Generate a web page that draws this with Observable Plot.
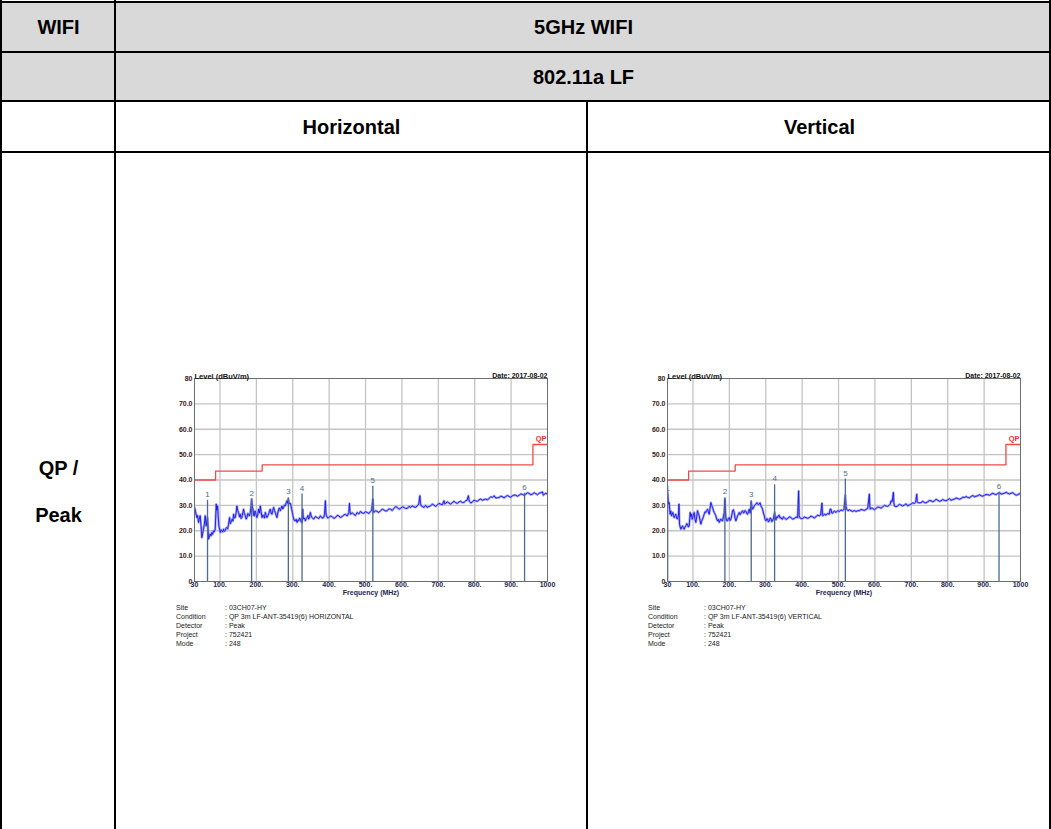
<!DOCTYPE html>
<html><head><meta charset="utf-8">
<script src="https://cdn.jsdelivr.net/npm/d3@7"></script>
<script src="https://cdn.jsdelivr.net/npm/@observablehq/plot@0.6"></script>
<style>
body{margin:0;background:#fff;font-family:"Liberation Sans",Arial,sans-serif;}
#page{position:relative;width:1051px;height:829px;overflow:hidden;}
.cell{position:absolute;display:flex;align-items:center;justify-content:center;font-weight:bold;font-size:20px;color:#000;text-align:center;}
.ln{position:absolute;background:#000;}
.chart{position:absolute;}
.info{position:absolute;font-size:7px;color:#222;line-height:9px;white-space:pre;}
</style></head><body><div id="page"></div>
<script>
// ---- data ----
const xTicks = [30,100,200,300,400,500,600,700,800,900,1000];
const xTickLabels = ["30","100.","200.","300.","400.","500.","600.","700.","800.","900.","1000"];
const yTicks = [0,10,20,30,40,50,60,70,80];
const yTickLabels = ["0","10.0","20.0","30.0","40.0","50.0","60.0","70.0","80"];
const xGrid = [100,200,300,400,500,600,700,800,900];
const yGrid = [10,20,30,40,50,60,70];
const limitFreq = [30,88,216,960,1000];
const limitLevel = [40,43.5,46,54,54];
const markerLabels = ["1","2","3","4","5","6"];
const hMarkerFreq = [65.8,186.9,287.9,325.5,520,937];
const hMarkerLevel = [32.0,32.5,33.0,34.5,37.5,34.8];
const vMarkerFreq = [30.5,187.7,260.1,324.3,518.7,941];
const vMarkerLevel = [34.5,33.0,31.8,38.1,40.4,35.1];
const hTrace = [[30,29.2],[33,27.5],[36.4,25.2],[38.5,26.0],[41,23.3],[43,24.5],[45.6,25.9],[48,22.0],[50.2,17.3],[52.5,19.0],[54.8,20.6],[57,22.5],[59.4,25.9],[62.1,21.9],[64,24.0],[65.8,25.2],[68.5,16.7],[70.5,17.5],[73.1,18.7],[75.5,18.0],[77.7,19.3],[80,18.6],[82.3,20.0],[84.5,19.6],[86.9,20.6],[89.7,30.5],[91.5,28.0],[93.3,29.8],[95,26.0],[97,21.9],[100.7,19.3],[103,20.4],[105.3,20.0],[107.5,19.5],[109.8,20.6],[112,19.8],[114.4,20.0],[116.7,21.0],[119,21.3],[121.3,20.8],[123.6,22.6],[126.4,25.2],[128.2,22.8],[130,23.3],[131.8,24.1],[133.7,24.6],[135.5,23.8],[137.4,26.5],[139.7,25.0],[142,25.2],[144.3,27.0],[146.5,29.8],[148.8,28.0],[151.1,27.2],[153.4,25.5],[155.7,26.5],[158,24.8],[160.3,25.2],[162.6,27.0],[164.9,28.5],[167.2,26.8],[169.5,25.9],[171.8,24.6],[174.1,25.2],[176.4,26.8],[178.7,26.5],[181,25.8],[183.3,27.2],[185,29.0],[186.9,32.5],[188.7,29.5],[190.6,28.5],[192.4,26.0],[194.3,25.9],[196.1,27.8],[197.9,27.2],[199.8,26.0],[201.6,25.2],[203.9,26.5],[206.2,28.5],[208.5,27.0],[210.8,29.8],[213.1,27.5],[215.4,25.2],[217.7,26.2],[220,25.9],[222.3,25.0],[224.6,27.2],[226.9,26.0],[229.1,25.2],[231.4,25.9],[233.7,26.5],[236,27.8],[238.3,28.5],[240.6,27.0],[242.9,26.5],[245.2,28.0],[247.5,29.2],[249.8,28.0],[252.1,27.2],[254.4,26.0],[256.7,25.2],[259,27.0],[261.3,28.5],[263.5,29.0],[265.8,27.9],[268.1,28.8],[270.4,29.8],[272.7,28.6],[275,29.2],[277.3,30.2],[279.6,29.8],[281.9,31.0],[284.2,31.8],[286,30.8],[287.9,32.5],[289.7,31.2],[291.5,30.5],[293.4,30.8],[295.2,29.8],[297,28.5],[298.9,27.2],[300.7,25.8],[302.6,24.6],[304.9,24.0],[307.1,23.9],[309.4,24.5],[311.7,23.3],[314,24.2],[316.3,23.9],[318.6,25.0],[320.9,24.6],[323.2,23.5],[325.5,23.3],[327.3,28.5],[328.7,25.5],[330.1,24.6],[332.4,25.0],[334.7,23.9],[337,24.8],[339.3,25.2],[341.6,26.0],[343.9,24.6],[346.2,25.5],[348.4,27.2],[350.7,25.8],[353,25.2],[355.3,24.8],[357.6,24.6],[362,25.6],[366.8,25.2],[371.4,24.8],[376,25.9],[380.6,25.0],[385.1,25.2],[387.4,26.5],[389.7,31.8],[391.1,27.0],[392.5,25.9],[395.7,25.0],[398.9,25.2],[403.5,25.8],[408.1,25.6],[412.7,24.9],[417.3,25.2],[421.9,26.0],[426.4,25.9],[431,25.2],[435.6,25.6],[440.2,26.2],[444.8,26.5],[449.4,25.8],[454,27.2],[455.8,30.8],[457.2,27.5],[458.6,26.5],[463.2,27.1],[467.7,26.5],[472.3,26.0],[476.9,27.2],[481.5,26.6],[486.1,27.6],[490.7,27.0],[495.3,26.9],[499.9,27.5],[504.5,27.2],[509,26.8],[513.6,27.6],[516.8,28.0],[520,32.5],[521.4,28.3],[522.8,27.2],[527.4,27.9],[532,27.6],[536.6,27.2],[541.2,27.9],[545.8,28.5],[550.3,28.2],[554.9,27.8],[559.5,27.9],[564.1,28.6],[568.7,28.5],[573.3,28.0],[577.9,28.8],[582.5,29.5],[587,29.2],[591.6,28.5],[596.2,28.8],[600.8,29.4],[605.4,29.2],[610,28.8],[614.6,28.8],[619.2,29.6],[623.7,29.2],[628.3,29.8],[632.9,29.4],[637.5,29.2],[642.1,29.8],[646,30.5],[649.4,33.8],[651,30.8],[653,29.8],[656.8,29.5],[660.5,29.2],[665,30.0],[669.6,29.2],[674.2,29.6],[678.8,29.8],[683.4,30.5],[688,30.1],[692.6,29.6],[697.2,30.1],[701.8,30.8],[706.3,30.5],[710.9,30.2],[715.5,31.8],[717.8,30.6],[720.1,30.8],[724.7,31.4],[729.3,30.9],[733.9,30.5],[738.5,31.1],[743,31.6],[747.6,31.1],[752.2,30.8],[756.8,31.4],[761.4,31.6],[766,31.1],[770.6,31.2],[775.2,31.8],[778.8,32.0],[782.5,33.8],[784.3,32.2],[786.2,31.4],[789.8,30.9],[793.5,31.4],[798.1,32.0],[802.7,31.8],[807.3,31.6],[811.9,32.2],[816.4,32.5],[821,32.0],[825.6,32.3],[830.2,32.5],[834.8,32.2],[839.4,32.7],[844,33.4],[848.6,33.1],[853.2,33.8],[857.8,32.9],[862.3,33.0],[866.9,33.1],[871.5,33.6],[876.1,33.4],[880.7,33.0],[885.3,33.5],[889.9,33.9],[894.5,33.5],[899.1,33.2],[903.7,33.8],[908.2,34.1],[912.8,34.0],[917.4,33.6],[922,34.0],[926.6,34.5],[931.2,34.3],[935.8,34.0],[940.4,34.4],[945,35.0],[949.6,34.7],[954.1,34.2],[958.7,34.4],[963.3,35.0],[967.9,34.6],[972.5,34.2],[977.1,34.8],[981.7,35.0],[986.3,35.3],[988.5,34.0],[990.8,34.4],[995.4,34.8],[1000,34.4]];
const vTrace = [[30,35.7],[31.8,31.8],[33.2,30.5],[34.6,31.1],[36,28.5],[37.3,26.5],[39,27.8],[41,25.9],[42.8,26.4],[44.7,27.2],[46.5,26.0],[48.3,25.2],[50.6,25.9],[52.9,26.5],[55.2,25.0],[57.5,24.6],[59,25.5],[60.3,25.9],[61.5,30.5],[63,22.6],[64.8,21.5],[66.7,20.6],[69,21.6],[71.3,21.9],[73.5,21.0],[75.8,20.6],[78,21.5],[80.4,21.9],[82.7,22.8],[85,22.6],[87.3,21.5],[89.6,21.9],[92.3,27.2],[94.2,25.5],[96,26.5],[97.8,24.5],[99.7,25.2],[101.5,26.5],[103.3,27.2],[105.6,24.5],[107.9,23.3],[110.2,25.5],[112.5,27.9],[114.8,26.8],[117.1,25.9],[119.4,24.0],[121.7,22.6],[124,23.8],[126.3,24.6],[128.5,25.5],[130.8,26.5],[133.1,27.5],[135.4,27.2],[137.7,28.0],[140,28.5],[142.3,27.5],[144.6,26.5],[146.9,28.8],[149.2,31.1],[151.5,30.0],[153.8,29.2],[156.1,28.0],[158.4,27.2],[160.7,26.5],[162.9,25.9],[165.2,24.5],[167.5,23.9],[169.8,24.5],[172.1,23.3],[174.4,24.0],[176.7,24.6],[179,24.0],[181.3,23.9],[183.6,25.5],[185.9,27.2],[187.7,32.5],[189,28.0],[190.4,25.2],[192.7,24.0],[195,23.9],[197.3,24.8],[199.6,25.2],[201.9,24.0],[204.2,24.6],[206.5,26.0],[208.8,27.9],[211.1,28.3],[213.4,27.2],[215.6,25.0],[217.9,23.9],[220.2,24.8],[222.5,25.9],[224.8,26.5],[227.1,27.2],[229.4,26.3],[231.7,26.9],[234,27.5],[236.3,27.9],[238.6,27.0],[240.9,27.2],[243.2,28.0],[245.4,27.6],[247.7,26.8],[250,26.5],[252.3,27.5],[254.6,28.5],[257.4,27.0],[260.1,31.4],[262,29.5],[263.8,28.5],[266.1,29.0],[268.4,29.8],[270.7,30.2],[272.9,30.5],[275.2,31.0],[277.5,30.8],[279.8,30.2],[282.1,30.5],[284.4,31.0],[286.7,29.8],[289,29.2],[291.3,28.5],[293.6,27.0],[295.9,25.9],[298.2,24.5],[300.5,23.9],[302.8,24.8],[305,24.6],[307.3,23.5],[309.6,23.9],[311.9,25.0],[314.2,24.8],[316.5,23.6],[318.8,23.9],[321.5,25.0],[324.3,27.2],[326.2,25.0],[328,24.3],[330.3,25.5],[332.5,25.2],[334.8,26.0],[337.1,26.1],[339.4,25.0],[341.7,25.2],[344,24.6],[346.3,24.6],[348.6,25.5],[350.9,25.2],[355.5,24.5],[360,24.8],[364.6,25.5],[369.2,25.2],[373.8,24.6],[378.4,24.8],[383,25.4],[387.6,25.2],[390.3,35.7],[391.7,26.0],[393.1,25.2],[397.2,24.8],[401.3,24.8],[405.9,25.4],[410.5,25.2],[415,24.9],[419.6,25.2],[424.2,25.8],[428.8,25.5],[433.4,25.0],[438,25.6],[442.6,26.1],[447.1,25.9],[450.8,26.2],[454.5,30.9],[455.9,26.5],[457.2,25.9],[461.4,26.6],[465.5,26.1],[470,26.8],[474.6,26.5],[476.9,28.5],[479.2,28.5],[481.5,27.0],[483.8,26.9],[488.4,27.8],[493,27.2],[497.6,27.9],[502.2,27.6],[506.7,28.2],[511.3,27.9],[515,28.5],[518.7,34.0],[520.5,29.5],[522.3,28.5],[526,27.9],[529.7,28.3],[534.2,27.9],[538.8,27.6],[543.4,28.0],[548,27.6],[552.6,27.9],[557.2,27.9],[561.8,28.4],[566.3,28.2],[570.9,28.0],[575.5,28.4],[580.1,28.8],[584.7,34.4],[586,29.5],[587.4,28.5],[590.6,29.0],[593.9,28.8],[598.5,28.3],[603,28.8],[607.6,29.3],[612.2,29.2],[616.8,28.9],[621.4,29.4],[626,30.0],[630.5,29.8],[635.1,29.6],[639.7,30.1],[642,30.5],[644.3,31.8],[647.5,31.5],[650.7,35.1],[652,31.0],[653.4,29.8],[658,29.5],[662.6,29.8],[667.2,30.4],[671.8,30.1],[676.4,29.8],[680.9,30.1],[685.5,30.6],[690.1,29.8],[694.7,30.2],[699.3,30.5],[703.9,31.0],[708.4,30.8],[711.7,31.2],[714.9,34.4],[716.2,31.5],[717.6,31.1],[722.2,31.0],[726.8,31.1],[731.4,31.6],[736,31.1],[740.6,31.0],[745.1,31.4],[749.7,31.9],[754.3,31.8],[758.9,31.4],[763.5,31.8],[768.1,32.4],[772.6,32.0],[777.2,31.6],[781.8,31.8],[786.4,32.3],[790.9,32.0],[795.5,31.8],[800.1,32.2],[804.7,32.6],[809.3,32.0],[813.9,32.3],[818.5,32.5],[823,32.9],[827.6,32.7],[832.2,32.4],[836.8,32.7],[841.4,33.2],[846,33.1],[850.6,33.5],[855.1,33.1],[859.7,33.0],[864.3,33.5],[868.9,33.9],[873.5,33.4],[878.1,33.6],[882.7,33.8],[887.2,34.2],[891.8,33.8],[896.4,33.6],[901,34.0],[905.6,34.3],[910.2,34.2],[914.7,34.0],[919.3,34.4],[923.9,34.8],[928.5,34.4],[933.1,34.3],[937.7,34.7],[942.3,35.1],[946.9,34.4],[951.4,34.6],[956,34.8],[960.6,35.2],[965.2,34.7],[969.8,34.5],[974.4,34.8],[979,35.0],[983.6,34.4],[988.2,34.0],[992.7,34.2],[996.3,34.6],[1000,34.4]];
const infoLabels = ["Site","Condition","Detector","Project","Mode"];
const hInfo = [": 03CH07-HY", ": QP 3m LF-ANT-35419(6) HORIZONTAL", ": Peak", ": 752421", ": 248"];
const vInfo = [": 03CH07-HY", ": QP 3m LF-ANT-35419(6) VERTICAL", ": Peak", ": 752421", ": 248"];
const chartTitle = "Level (dBuV/m)";
const chartDate = "Date: 2017-08-02";
const xLabel = "Frequency (MHz)";
const limitName = "QP";

// ---- table ----
const page = document.getElementById("page");
function add(cls, css, html) {
  const d = document.createElement("div");
  d.className = cls; d.style.cssText = css; if (html != null) d.innerHTML = html;
  page.appendChild(d); return d;
}
add("", "position:absolute;left:0;top:2px;width:1051px;height:99px;background:#d9d9d9;");
add("cell", "left:2px;top:3px;width:113px;height:49px;", "WIFI");
add("cell", "left:116px;top:3px;width:935px;height:49px;", "5GHz WIFI");
add("cell", "left:116px;top:53px;width:935px;height:48px;", "802.11a LF");
add("cell", "left:116px;top:102px;width:471px;height:50px;", "Horizontal");
add("cell", "left:588px;top:102px;width:463px;height:50px;", "Vertical");
add("cell", "left:2px;top:152px;width:113px;height:680px;line-height:47px;", "QP /<br>Peak");
// lines
add("ln", "left:0;top:1px;width:1051px;height:2px;");
add("ln", "left:0;top:51px;width:1051px;height:2px;");
add("ln", "left:0;top:100px;width:1051px;height:2px;");
add("ln", "left:0;top:151px;width:1051px;height:2px;");
add("ln", "left:0;top:0;width:2px;height:829px;");
add("ln", "left:114px;top:0;width:2px;height:829px;");
add("ln", "left:586px;top:101px;width:2px;height:728px;");
add("ln", "left:1049px;top:0;width:2px;height:829px;");

// ---- charts ----
const FONT = "'Liberation Sans', Arial, sans-serif";
function chart(trace, mFreq, mLevel) {
  const data = trace.map(([f, v]) => ({f, v}));
  const limit = limitFreq.map((f, i) => ({f, v: limitLevel[i]}));
  const markers = mFreq.map((f, i) => ({f, v: mLevel[i], label: markerLabels[i]}));
  return Plot.plot({
    width: 420, height: 240,
    marginLeft: 54, marginRight: 13, marginTop: 16, marginBottom: 21,
    x: {type: "linear", domain: [30, 1000]},
    y: {type: "linear", domain: [0, 80]},
    style: {fontFamily: FONT, background: "transparent", overflow: "visible"},
    marks: [
      Plot.ruleX(xGrid, {stroke: "#c4c4c4", strokeWidth: 1.3}),
      Plot.ruleY(yGrid, {stroke: "#c4c4c4", strokeWidth: 1.3}),
      Plot.line(limit, {x: "f", y: "v", curve: "step-after", stroke: "#f04a4a", strokeWidth: 1.3}),
      Plot.line(data, {x: "f", y: "v", stroke: "#a6a6fa", strokeWidth: 2.4, clip: true}),
      Plot.line(data, {x: "f", y: "v", stroke: "#1414e8", strokeWidth: 0.9, clip: true}),
      Plot.ruleX(markers, {x: "f", y1: 0, y2: "v", stroke: "#4d6b8c", strokeWidth: 1.3, clip: true}),
      Plot.text(markers, {x: "f", y: "v", text: "label", dy: -6, fill: "#4d6b8c", fontSize: 8, clip: true}),
      Plot.frame({stroke: "#6e6e6e", strokeWidth: 1}),
      Plot.axisY({ticks: yTicks, tickFormat: d => yTickLabels[yTicks.indexOf(d)], tickSize: 0, tickPadding: 2,
        fontSize: 7, fontWeight: "bold", fill: "#3a2020", label: null}),
      Plot.axisX({ticks: xTicks, tickFormat: d => xTickLabels[xTicks.indexOf(d)], tickSize: 0, tickPadding: 1,
        fontSize: 7, fontWeight: "bold", fill: "#1e2550", label: null}),
      Plot.text([chartTitle], {frameAnchor: "top-left", textAnchor: "start", dy: -5, fontSize: 7.5, fontWeight: "bold", fill: "#111"}),
      Plot.text([chartDate], {frameAnchor: "top-right", textAnchor: "end", dy: -5, fontSize: 7, fontWeight: "bold", fill: "#111"}),
      Plot.text([xLabel], {frameAnchor: "bottom", dy: 13, fontSize: 7, fontWeight: "bold", fill: "#1e2550"}),
      Plot.text([limitName], {x: limitFreq[limitFreq.length - 1], y: limitLevel[limitLevel.length - 1], dy: -6, dx: -1,
        textAnchor: "end", fontSize: 7.5, fontWeight: "bold", fill: "#f03030"})
    ]
  });
}
function place(svg, left, top) {
  const d = add("chart", `left:${left}px;top:${top}px;`);
  d.appendChild(svg);
}
place(chart(hTrace, hMarkerFreq, hMarkerLevel), 140, 362);
place(chart(vTrace, vMarkerFreq, vMarkerLevel), 613, 362);

function info(left, top, gap, values) {
  add("info", `left:${left}px;top:${top}px;`, infoLabels.join("<br>"));
  add("info", `left:${left + gap}px;top:${top}px;`, values.join("<br>"));
}
info(176, 603, 49, hInfo);
info(648, 603, 56, vInfo);
</script>
</body></html>
